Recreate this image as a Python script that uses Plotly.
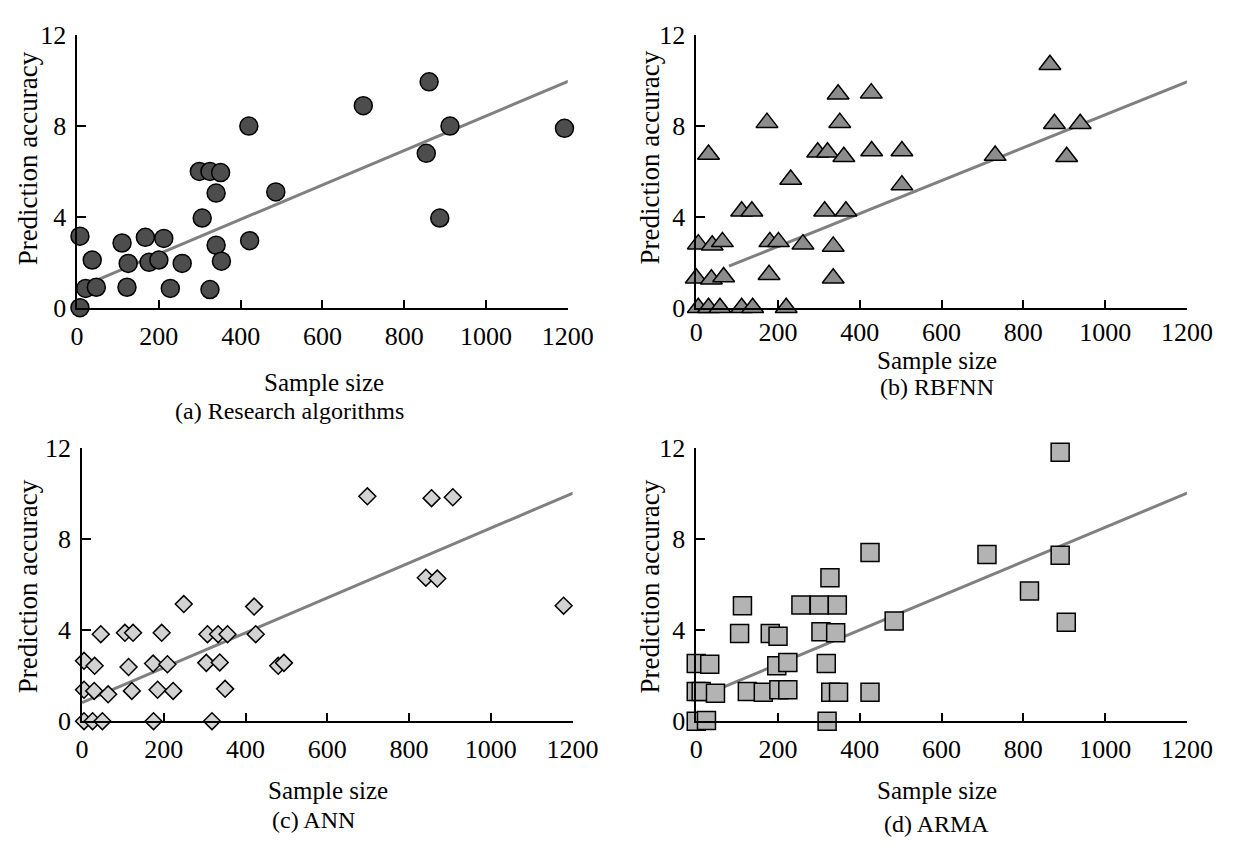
import plotly.graph_objects as go

W, H = 1246, 856

# ---------------- data ----------------
a_x = [7, 37, 21, 47, 7, 44, 104, 110, 125, 122, 167, 176, 200, 212, 228, 257, 299, 306, 325, 351, 340, 340, 353, 325, 420, 422, 486, 700, 861, 854, 912, 887, 1192]
a_y = [3.15, 2.1, 0.85, 0.9, 0.0, -0.05, -0.25, 2.85, 1.95, 0.9, 3.1, 2.0, 2.1, 3.05, 0.85, 1.95, 6.0, 3.95, 6.0, 5.95, 5.05, 2.75, 2.05, 0.8, 8.0, 2.95, 5.1, 8.9, 9.95, 6.8, 8.0, 3.95, 7.9]

b_x = [5, 39, 64, 30, 0, 37, 67, 5, 30, 58, 111, 138, 220, 111, 136, 173, 180, 201, 178, 231, 261, 297, 321, 361, 347, 351, 314, 366, 335, 335, 428, 429, 503, 503, 731, 865, 876, 939, 906, 1237]
b_y = [2.8, 2.75, 2.9, 6.75, 1.3, 1.25, 1.35, 0.0, 0.0, 0.0, 0.0, 0.0, 0.0, 4.25, 4.25, 8.15, 2.9, 2.9, 1.45, 5.65, 2.8, 6.85, 6.85, 6.65, 9.4, 8.15, 4.25, 4.25, 2.7, 1.3, 9.45, 6.9, 6.9, 5.4, 6.7, 10.7, 8.1, 8.1, 6.65, 8.15]

c_x = [5, 31, 5, 30, 64, 5, 26, 50, 46, 105, 125, 114, 122, 175, 174, 185, 195, 209, 223, 249, 307, 304, 333, 356, 337, 350, 318, 421, 425, 480, 494, 698, 841, 869, 855, 907, 1178]
c_y = [2.65, 2.43, 1.38, 1.33, 1.18, 0, 0, 0, 3.82, 3.88, 3.88, 2.38, 1.33, 0, 2.53, 1.38, 3.88, 2.5, 1.33, 5.14, 3.82, 2.56, 3.82, 3.82, 2.58, 1.42, 0, 5.03, 3.82, 2.43, 2.56, 9.87, 6.3, 6.26, 9.79, 9.83, 5.07]

d_x = [0, 33, 0, 12, 47, 0, 25, 113, 106, 125, 164, 181, 200, 197, 224, 202, 224, 256, 301, 327, 345, 305, 341, 318, 320, 329, 348, 425, 425, 484, 711, 815, 890, 890, 905, 1215]
d_y = [2.53, 2.5, 1.3, 1.3, 1.23, 0, 0.03, 5.07, 3.85, 1.3, 1.27, 3.85, 3.73, 2.43, 2.58, 1.38, 1.38, 5.1, 5.1, 6.3, 5.1, 3.93, 3.88, 2.53, 0, 1.27, 1.27, 7.4, 1.27, 4.4, 7.32, 5.72, 11.8, 7.28, 4.34, 7.4]

# fitted trend lines (endpoints)
fit_a_x, fit_a_y = [54, 1205], [1.26, 10.0]
fit_b_x, fit_b_y = [80, 1207], [1.83, 10.0]
fit_c_x, fit_c_y = [0, 1207], [0.82, 10.06]
fit_d_x, fit_d_y = [56, 1207], [1.42, 10.06]

x_ticks = [0, 200, 400, 600, 800, 1000, 1200]
y_ticks = [0, 4, 8, 12]
x_title = "Sample size"
y_title = "Prediction accuracy"
captions = ["(a) Research algorithms", "(b) RBFNN", "(c) ANN", "(d) ARMA"]

# ---------------- layout geometry (pixels) ----------------
FONT = "'Liberation Serif', 'Times New Roman', Times, serif"
panels = [
    dict(x0=72, x1=576, yb=304, yt=22),
    dict(x0=708, x1=1212, yb=304, yt=22),
    dict(x0=77, x1=581, yb=732, yt=449),
    dict(x0=708, x1=1212, yb=732, yt=449),
]
series = [
    (a_x, a_y, fit_a_x, fit_a_y, "circle", "#4d4d4d", 18),
    (b_x, b_y, fit_b_x, fit_b_y, "triangle-up", "#8c8c8c", 19),
    (c_x, c_y, fit_c_x, fit_c_y, "diamond", "#d2d2d2", 13),
    (d_x, d_y, fit_d_x, fit_d_y, "square", "#b3b3b3", 18),
]
x_standoff = [4, 0, 4, 4]
xtitle_pos = [(326, 381), (955, 359), (330, 804), (955, 804)]
cap_pos = [(290, 411), (955, 386), (315, 834), (955, 838)]
ytitle_pos = [(22, 149), (660, 149), (22, 592), (660, 593)]

fig = go.Figure()
layout = dict(
    width=W, height=H,
    margin=dict(l=0, r=0, t=0, b=0),
    paper_bgcolor="white", plot_bgcolor="white",
    showlegend=False,
    font=dict(family=FONT, size=24, color="black"),
)
annotations = []

for i, (p, s) in enumerate(zip(panels, series)):
    xs, ys, fx, fy, sym, col, msize = s
    n = "" if i == 0 else str(i + 1)
    xa, ya = "x" + n, "y" + n
    fig.add_trace(go.Scatter(x=fx, y=fy, mode="lines", xaxis=xa, yaxis=ya,
                             line=dict(color="#808080", width=3), cliponaxis=False))
    fig.add_trace(go.Scatter(x=xs, y=ys, mode="markers", xaxis=xa, yaxis=ya,
                             cliponaxis=False,
                             marker=dict(symbol=sym, size=msize, color=col,
                                         line=dict(color="black", width=1.5))))
    layout["xaxis" + n] = dict(
        domain=[p["x0"] / W, p["x1"] / W], anchor=ya, range=[0, 1200],
        tickvals=x_ticks, ticktext=[str(v) for v in x_ticks],
        ticks="inside", ticklen=8, tickwidth=1.5, tickcolor="black",
        showline=True, linecolor="black", linewidth=1.5,
        showgrid=False, zeroline=False,
        tickfont=dict(family=FONT, size=26, color="black"),
        ticklabelstandoff=x_standoff[i],
    )
    layout["yaxis" + n] = dict(
        domain=[1 - p["yb"] / H, 1 - p["yt"] / H], anchor=xa, range=[0, 12],
        tickvals=y_ticks, ticktext=[str(v) for v in y_ticks],
        ticks="inside", ticklen=9, tickwidth=1.5, tickcolor="black",
        showline=True, linecolor="black", linewidth=1.5,
        showgrid=False, zeroline=False,
        tickfont=dict(family=FONT, size=26, color="black"),
        ticklabelstandoff=4,
    )
    tx, ty = xtitle_pos[i]
    annotations.append(dict(text=x_title, x=tx / W, y=1 - ty / H, xref="paper", yref="paper",
                            showarrow=False, xanchor="center", yanchor="middle",
                            font=dict(family=FONT, size=25, color="black")))
    cx, cy = cap_pos[i]
    annotations.append(dict(text=captions[i], x=cx / W, y=1 - cy / H, xref="paper", yref="paper",
                            showarrow=False, xanchor="center", yanchor="middle",
                            font=dict(family=FONT, size=24, color="black")))
    yx, yy = ytitle_pos[i]
    annotations.append(dict(text=y_title, x=yx / W, y=1 - yy / H, xref="paper", yref="paper",
                            showarrow=False, xanchor="center", yanchor="middle", textangle=-90,
                            font=dict(family=FONT, size=27, color="black")))

layout["annotations"] = annotations
fig.update_layout(**layout)
fig.write_html("out.html")
